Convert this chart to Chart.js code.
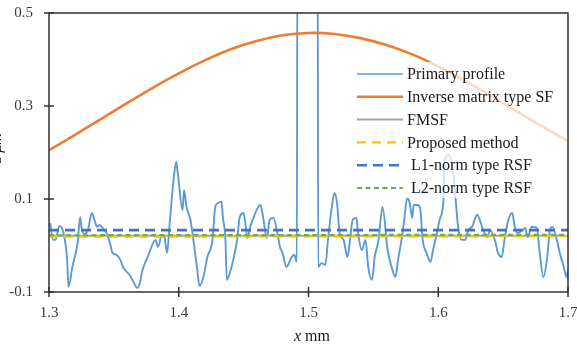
<!DOCTYPE html>
<html>
<head>
<meta charset="utf-8">
<script src="https://cdn.jsdelivr.net/npm/chart.js@4"></script>
<style>
  html, body { margin: 0; padding: 0; background: #fff; }
</style>
</head>
<body>
<canvas id="profileChart" width="577" height="347"></canvas>
<script>
var xTicks = [1.3, 1.4, 1.5, 1.6, 1.7];
var yTicks = [-0.1, 0.1, 0.3, 0.5];

// primary profile
var profileX = [1.301, 1.303, 1.305, 1.308, 1.311, 1.314, 1.315, 1.318, 1.322, 1.324,
  1.325, 1.327, 1.330, 1.333, 1.335, 1.337, 1.339, 1.342, 1.345, 1.347,
  1.349, 1.352, 1.355, 1.357, 1.360, 1.362, 1.365, 1.368, 1.370, 1.372,
  1.376, 1.378, 1.382, 1.384, 1.387, 1.389, 1.391, 1.393, 1.396, 1.398,
  1.399, 1.403, 1.404, 1.406, 1.409, 1.411, 1.414, 1.416, 1.419, 1.422,
  1.426, 1.428, 1.430, 1.433, 1.434, 1.436, 1.437, 1.440, 1.442, 1.445,
  1.447, 1.450, 1.453, 1.455, 1.457, 1.460, 1.463, 1.465, 1.468, 1.470,
  1.473, 1.476, 1.478, 1.480, 1.483, 1.487, 1.489, 1.491, 1.4915, 1.507,
  1.5075, 1.510, 1.513, 1.515, 1.518, 1.520, 1.522, 1.524, 1.527, 1.530,
  1.532, 1.534, 1.537, 1.538, 1.541, 1.544, 1.546, 1.549, 1.551, 1.554,
  1.557, 1.561, 1.564, 1.567, 1.569, 1.572, 1.574, 1.576, 1.578, 1.580,
  1.581, 1.584, 1.586, 1.588, 1.591, 1.594, 1.596, 1.599, 1.601, 1.604,
  1.605, 1.608, 1.611, 1.613, 1.615, 1.618, 1.621, 1.623, 1.626, 1.630,
  1.632, 1.634, 1.638, 1.640, 1.644, 1.646, 1.649, 1.651, 1.654, 1.657,
  1.659, 1.661, 1.665, 1.667, 1.669, 1.672, 1.676, 1.678, 1.681, 1.684,
  1.686, 1.688, 1.692, 1.694, 1.696, 1.699, 1.700];
var profileY = [0.048, 0.012, 0.012, 0.042, 0.029, -0.031, -0.089, -0.046, 0.005, 0.061,
  0.040, 0.025, 0.033, 0.070, 0.055, 0.040, 0.044, 0.035, 0.023, 0.005,
  -0.016, -0.020, -0.031, -0.046, -0.057, -0.063, -0.078, -0.091, -0.081, -0.053,
  -0.025, -0.010, 0.012, -0.003, 0.023, 0.018, -0.016, 0.048, 0.141, 0.180,
  0.162, 0.076, 0.119, 0.083, 0.055, 0.018, -0.046, -0.087, -0.068, -0.025,
  0.012, 0.081, 0.091, 0.094, 0.061, 0.012, -0.074, -0.053, -0.031, 0.012,
  0.061, 0.070, 0.016, 0.040, 0.055, 0.076, 0.087, 0.061, 0.016, 0.055,
  0.059, 0.027, -0.003, -0.016, -0.046, -0.025, -0.020, -0.035, 0.70, 0.70,
  -0.046, -0.038, -0.042, 0.012, 0.083, 0.113, 0.091, 0.027, 0.012, -0.025,
  0.012, 0.055, 0.059, 0.033, -0.010, 0.012, -0.046, -0.074, -0.025, 0.012,
  0.083, -0.010, -0.046, -0.068, -0.031, 0.018, 0.061, 0.102, 0.091, 0.059,
  0.087, 0.087, 0.081, 0.012, -0.016, -0.035, -0.010, 0.027, 0.055, 0.098,
  0.184, 0.195, 0.169, 0.113, 0.048, 0.012, 0.012, 0.033, 0.040, 0.066,
  0.055, 0.038, 0.018, 0.033, 0.008, -0.016, -0.025, 0.012, 0.055, 0.070,
  0.040, 0.027, 0.033, 0.038, 0.018, 0.040, 0.038, -0.010, -0.068, -0.025,
  0.033, 0.040, 0.005, -0.020, -0.038, -0.068, -0.053];

// inverse matrix type SF
var sfX = [1.30, 1.32, 1.34, 1.36, 1.38, 1.40, 1.42, 1.44, 1.46, 1.48, 1.50,
  1.52, 1.54, 1.56, 1.58, 1.60, 1.62, 1.64, 1.66, 1.68, 1.70];
var sfY = [0.205, 0.238, 0.272, 0.306, 0.339, 0.370, 0.398, 0.422, 0.440, 0.452, 0.457,
  0.455, 0.446, 0.431, 0.411, 0.385, 0.355, 0.323, 0.289, 0.256, 0.225];

// mean lines
var lineX = [1.3, 1.7];
var fmsfY = [0.021, 0.021];
var proposedY = [0.019, 0.020];
var l1Y = [0.033, 0.033];
var l2Y = [0.022, 0.023];

function pts(xs, ys) {
  return xs.map(function (x, i) { return { x: x, y: ys[i] }; });
}

var serif = '"Liberation Serif", "Times New Roman", serif';

var legendBox = {
  id: 'legendBox',
  afterDatasetsDraw: function (chart) {
    var ctx = chart.ctx, a = chart.chartArea;
    ctx.save();
    ctx.fillStyle = 'rgba(255,255,255,0.72)';
    ctx.fillRect(350, 62, a.right - 350, 136);
    ctx.font = '16px ' + serif;
    ctx.textBaseline = 'middle';
    chart.data.datasets.forEach(function (ds, i) {
      var y = 74 + i * 22.8;
      ctx.strokeStyle = ds.borderColor;
      ctx.lineWidth = i === 0 ? 1.5 : ds.borderWidth;
      ctx.setLineDash(ds.borderDash || []);
      ctx.beginPath();
      ctx.moveTo(357, y);
      ctx.lineTo(403, y);
      ctx.stroke();
      ctx.fillStyle = '#1a1a1a';
      ctx.fillText(ds.label, 407, y + 1);
    });
    ctx.restore();
  }
};

var frame = {
  id: 'frame',
  afterDraw: function (chart) {
    var ctx = chart.ctx, a = chart.chartArea;
    var xs = chart.scales.x, ys = chart.scales.y;
    ctx.save();
    ctx.strokeStyle = '#333';
    ctx.lineWidth = 1.5;
    ctx.strokeRect(a.left, a.top, a.right - a.left, a.bottom - a.top);
    ctx.beginPath();
    xs.ticks.forEach(function (t) {
      var p = xs.getPixelForValue(t.value);
      ctx.moveTo(p, a.bottom - 5);
      ctx.lineTo(p, a.bottom + 5);
    });
    ys.ticks.forEach(function (t) {
      var p = ys.getPixelForValue(t.value);
      ctx.moveTo(a.left - 5, p);
      ctx.lineTo(a.left + 5, p);
    });
    ctx.stroke();

    // x title: italic x + mm
    ctx.fillStyle = '#1a1a1a';
    ctx.textBaseline = 'alphabetic';
    ctx.font = 'italic 16px ' + serif;
    var w1 = ctx.measureText('x').width;
    ctx.font = '16px ' + serif;
    var w2 = ctx.measureText(' mm').width;
    var sx = 312 - (w1 + w2) / 2;
    ctx.font = 'italic 16px ' + serif;
    ctx.fillText('x', sx, 341);
    ctx.font = '16px ' + serif;
    ctx.fillText(' mm', sx + w1, 341);

    // y title, mostly off the left edge
    ctx.translate(1, 148);
    ctx.rotate(-Math.PI / 2);
    ctx.textAlign = 'center';
    ctx.font = 'italic 16px ' + serif;
    ctx.fillText('z μm', 0, 0);
    ctx.restore();
  }
};

new Chart('profileChart', {
  type: 'scatter',
  data: {
    datasets: [
      { label: 'Primary profile', data: pts(profileX, profileY), showLine: true,
        cubicInterpolationMode: 'monotone',
        borderColor: '#5B9BD5', borderWidth: 1.9, pointRadius: 0, order: 6 },
      { label: 'Inverse matrix type SF', data: pts(sfX, sfY), showLine: true, tension: 0.4,
        borderColor: '#ED7D31', borderWidth: 2.6, pointRadius: 0, order: 5 },
      { label: 'FMSF', data: pts(lineX, fmsfY), showLine: true,
        borderColor: '#A5A5A5', borderWidth: 2, pointRadius: 0, order: 4 },
      { label: 'Proposed method', data: pts(lineX, proposedY), showLine: true,
        borderColor: '#FFC000', borderWidth: 2.2, borderDash: [9, 6], pointRadius: 0, order: 3 },
      { label: ' L1-norm type RSF', data: pts(lineX, l1Y), showLine: true,
        borderColor: '#4472C4', borderWidth: 2.6, borderDash: [10, 6], pointRadius: 0, order: 1 },
      { label: ' L2-norm type RSF', data: pts(lineX, l2Y), showLine: true,
        borderColor: '#70AD47', borderWidth: 2.2, borderDash: [5, 3.5], pointRadius: 0, order: 2 }
    ]
  },
  options: {
    responsive: false,
    animation: false,
    layout: { padding: { left: 0, right: 9, top: 13, bottom: 0 } },
    plugins: { legend: { display: false }, tooltip: { enabled: false } },
    scales: {
      x: {
        type: 'linear', min: 1.3, max: 1.7,
        afterBuildTicks: function (s) { s.ticks = xTicks.map(function (v) { return { value: v }; }); },
        afterFit: function (s) { s.height = 55; s.paddingLeft = 0; s.paddingRight = 0; },
        grid: { display: false, drawTicks: false },
        border: { display: false },
        ticks: { padding: 12, color: '#3a3a3a', font: { family: serif, size: 15 },
          callback: function (v) { return String(v); } }
      },
      y: {
        min: -0.1, max: 0.5,
        afterBuildTicks: function (s) { s.ticks = yTicks.map(function (v) { return { value: v }; }); },
        afterFit: function (s) { s.width = 49; s.paddingTop = 0; s.paddingBottom = 0; },
        grid: { display: false, drawTicks: false },
        border: { display: false },
        ticks: { padding: 16, color: '#3a3a3a', font: { family: serif, size: 15 },
          callback: function (v) { return String(v); } }
      }
    }
  },
  plugins: [legendBox, frame]
});
</script>
</body>
</html>
